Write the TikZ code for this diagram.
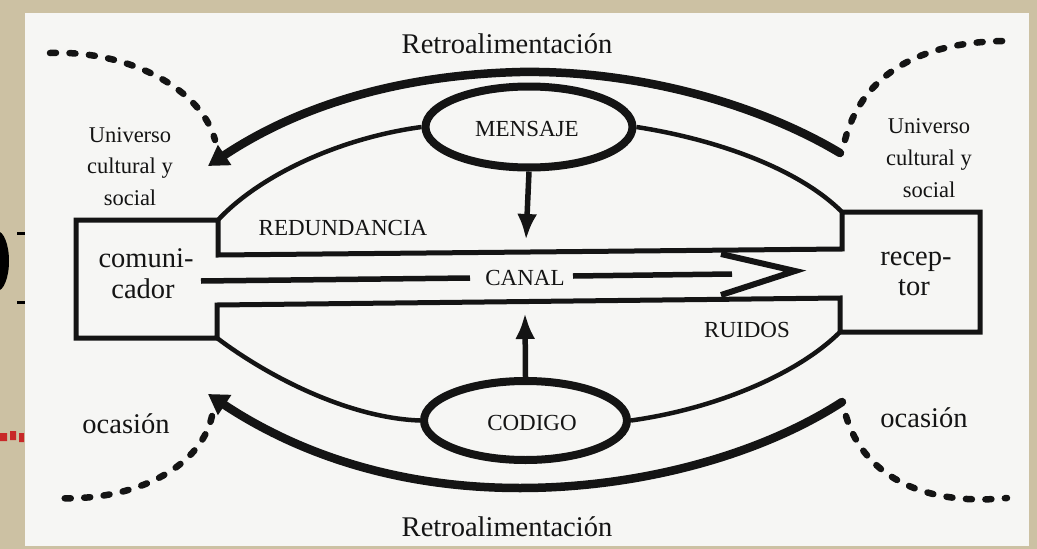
\documentclass[tikz,border=0pt]{standalone}
\usepackage{fontspec}
\setmainfont{Liberation Serif}
\usetikzlibrary{arrows.meta,shapes.geometric}
\definecolor{bg}{RGB}{204,193,163}
\definecolor{paper}{RGB}{246,246,244}
\definecolor{ink}{RGB}{20,20,20}
\definecolor{smudge}{RGB}{200,40,40}
\begin{document}
\begin{tikzpicture}[x=1pt,y=-1pt,
  lbl/.style={text=ink, inner sep=0pt, anchor=base},
  big/.style={lbl, font=\fontsize{28.5}{32}\selectfont},
  mid/.style={lbl, font=\fontsize{22.5}{26}\selectfont},
  caps/.style={lbl, font=\fontsize{23}{26}\selectfont},
  frame/.style={draw=ink, line width=5pt, line join=miter},
  bound/.style={draw=ink, line width=4.5pt},
  arcline/.style={draw=ink, line width=8.5pt, line cap=round,
     -{Triangle[length=20pt, width=23pt]}},
  dotline/.style={draw=ink, line width=6.5pt, line cap=round, dash pattern=on 6pt off 13.5pt},
  ell/.style={ellipse, draw=ink, line width=8pt, inner sep=0pt},
  vert/.style={draw=ink, line width=5.5pt, -{Latex[length=26pt,width=20pt]}},
  chan/.style={draw=ink, line width=5.5pt}
]
\useasboundingbox (0,0) rectangle (1037,549);
\fill[bg] (0,0) rectangle (1037,549);
\fill[paper] (25,13) rectangle (1029,546);
% edge artifacts
\fill[black] (-3,261) ellipse [x radius=12pt, y radius=30pt];
\draw[black, line width=3pt] (17,233) -- (25,233) (17,302) -- (25,302);
\fill[smudge] (0,433) rectangle (7,441) (10,431) rectangle (16,440) (19,433) rectangle (24,442);

% frame: boxes and channel
\coordinate (A) at (76,220);
\coordinate (B) at (218,220);
\coordinate (C) at (218,255);
\coordinate (D) at (842,249);
\coordinate (E) at (842,212);
\coordinate (F) at (980,212);
\coordinate (G) at (980,332);
\coordinate (H) at (840,332);
\coordinate (I) at (840,298);
\coordinate (J) at (217,305);
\coordinate (K) at (217,338);
\coordinate (L) at (76,338);
\draw[frame] (A) -- (B) -- (C) -- (D) -- (E) -- (F) -- (G) -- (H) -- (I) -- (J) -- (K) -- (L) -- cycle;

% ellipses
\node[ell, minimum width=207pt, minimum height=81pt] (mensaje) at (529,127) {};
\node[ell, minimum width=203pt, minimum height=79pt] (codigo) at (525.5,420.5) {};
\node[caps] (tmensaje) at (527,136) {MENSAJE};
\node[caps] (tcodigo) at (532,430) {CODIGO};

% boundary curves
\draw[bound] (B) .. controls (260,175) and (340,138) .. (mensaje.west);
\draw[bound] (mensaje.east) .. controls (720,140) and (800,170) .. (E);
\draw[bound] (K) .. controls (270,378) and (350,418) .. (codigo.west);
\draw[bound] (codigo.east) .. controls (720,408) and (800,372) .. (H);

% vertical arrows
\coordinate (mtip) at (526,240);
\coordinate (ctip) at (525,313);
\draw[vert] (mensaje.south) -- (mtip);
\draw[vert] (codigo.north) -- (ctip);

% canal
\node[caps] (canal) at (525,285) {CANAL};
\coordinate (cl) at (201,281);
\coordinate (cle) at (470,278);
\coordinate (crs) at (573,276);
\coordinate (cr) at (732,274);
\draw[chan] (cl) -- (cle);
\draw[chan] (crs) -- (cr);
\coordinate (z1) at (721,254);
\coordinate (z2) at (795,271);
\coordinate (z3) at (721,295);
\draw[draw=ink, line width=6pt, line join=miter] (z1) -- (z2) -- (z3);

% retroalimentacion arcs
\coordinate (tR) at (840,153);
\coordinate (tM) at (520,72);
\coordinate (tL) at (208,166);
\draw[arcline] (tR) .. controls (760,105) and (640,70) .. (tM) .. controls (400,75) and (300,105) .. (tL);
\coordinate (bR) at (842,402);
\coordinate (bM) at (520,488);
\coordinate (bL) at (208,394);
\draw[arcline] (bR) .. controls (760,455) and (640,488) .. (bM) .. controls (400,488) and (300,455) .. (bL);

% dotted curves
\coordinate (d1a) at (50,53);
\coordinate (d1b) at (215,140);
\draw[dotline] (d1a) .. controls (130,50) and (202,90) .. (d1b);
\coordinate (d2a) at (845,140);
\coordinate (d2b) at (1005,41);
\draw[dotline] (d2a) .. controls (860,82) and (910,42) .. (d2b);
\coordinate (d3a) at (212,416);
\coordinate (d3b) at (55,498);
\draw[dotline] (d3a) .. controls (200,470) and (130,502) .. (d3b);
\coordinate (d4a) at (846,416);
\coordinate (d4b) at (1007,498);
\draw[dotline] (d4a) .. controls (865,480) and (930,506) .. (d4b);

% labels
\node[big] (rtop) at (507,53) {Retroalimentación};
\node[big] (rbot) at (507,536) {Retroalimentación};
\node[mid] (ul1) at (130,142) {Universo};
\node[mid] (ul2) at (130,173) {cultural y};
\node[mid] (ul3) at (130,205) {social};
\node[mid] (ur1) at (929,133) {Universo};
\node[mid] (ur2) at (929,165) {cultural y};
\node[mid] (ur3) at (929,197) {social};
\node[big] (com1) at (146,267) {comuni-};
\node[big] (com2) at (143,298) {cador};
\node[big] (rec1) at (916,265) {recep-};
\node[big] (rec2) at (914,295) {tor};
\node[caps] (red) at (343,235) {REDUNDANCIA};
\node[caps] (rui) at (747,337) {RUIDOS};
\node[big] (ocL) at (126,433) {ocasión};
\node[big] (ocR) at (924,427) {ocasión};
\end{tikzpicture}
\end{document}
